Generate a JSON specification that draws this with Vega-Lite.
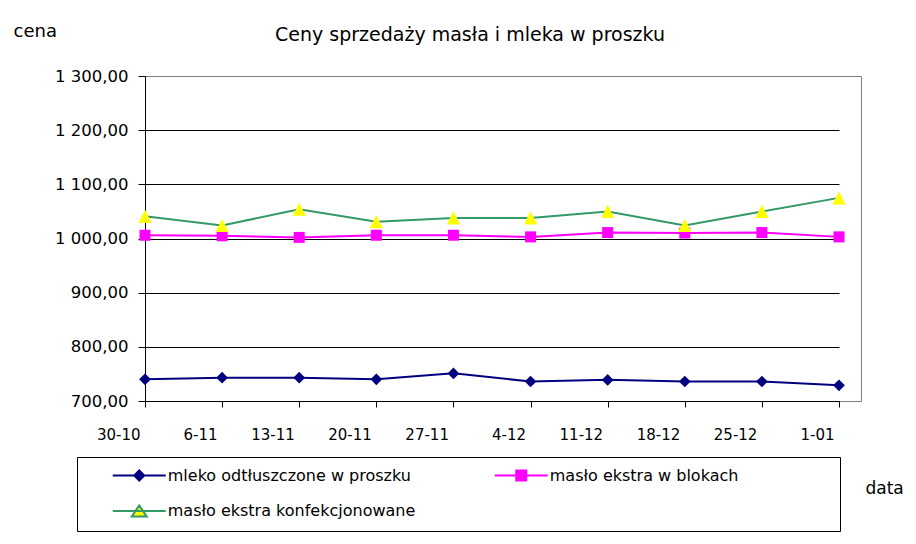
{
  "$schema": "https://vega.github.io/schema/vega-lite/v6.json",
  "width": 716,
  "height": 325,
  "autosize": {"type": "none"},
  "padding": {"left": 145, "top": 76, "right": 55, "bottom": 143},
  "background": "white",
  "config": {"view": {"stroke": "#808080", "strokeWidth": 1}},
  "title": {
    "text": "Ceny sprzedaży masła i mleka w proszku",
    "font": "DejaVu Sans", "fontSize": 19, "fontWeight": "normal", "color": "black",
    "anchor": "middle", "frame": "group", "dx": -33, "baseline": "alphabetic", "offset": -38
  },
  "data": {"values": [
    {"date": "30-10", "series": "mleko odtłuszczone w proszku", "value": 740},
    {"date": "6-11", "series": "mleko odtłuszczone w proszku", "value": 743},
    {"date": "13-11", "series": "mleko odtłuszczone w proszku", "value": 743},
    {"date": "20-11", "series": "mleko odtłuszczone w proszku", "value": 740},
    {"date": "27-11", "series": "mleko odtłuszczone w proszku", "value": 751},
    {"date": "4-12", "series": "mleko odtłuszczone w proszku", "value": 736},
    {"date": "11-12", "series": "mleko odtłuszczone w proszku", "value": 739},
    {"date": "18-12", "series": "mleko odtłuszczone w proszku", "value": 736},
    {"date": "25-12", "series": "mleko odtłuszczone w proszku", "value": 736},
    {"date": "1-01", "series": "mleko odtłuszczone w proszku", "value": 729},
    {"date": "30-10", "series": "masło ekstra w blokach", "value": 1006},
    {"date": "6-11", "series": "masło ekstra w blokach", "value": 1005},
    {"date": "13-11", "series": "masło ekstra w blokach", "value": 1002},
    {"date": "20-11", "series": "masło ekstra w blokach", "value": 1006},
    {"date": "27-11", "series": "masło ekstra w blokach", "value": 1006},
    {"date": "4-12", "series": "masło ekstra w blokach", "value": 1003},
    {"date": "11-12", "series": "masło ekstra w blokach", "value": 1011},
    {"date": "18-12", "series": "masło ekstra w blokach", "value": 1010},
    {"date": "25-12", "series": "masło ekstra w blokach", "value": 1011},
    {"date": "1-01", "series": "masło ekstra w blokach", "value": 1003},
    {"date": "30-10", "series": "masło ekstra konfekcjonowane", "value": 1041},
    {"date": "6-11", "series": "masło ekstra konfekcjonowane", "value": 1024},
    {"date": "13-11", "series": "masło ekstra konfekcjonowane", "value": 1054},
    {"date": "20-11", "series": "masło ekstra konfekcjonowane", "value": 1031},
    {"date": "27-11", "series": "masło ekstra konfekcjonowane", "value": 1038},
    {"date": "4-12", "series": "masło ekstra konfekcjonowane", "value": 1038},
    {"date": "11-12", "series": "masło ekstra konfekcjonowane", "value": 1050},
    {"date": "18-12", "series": "masło ekstra konfekcjonowane", "value": 1024},
    {"date": "25-12", "series": "masło ekstra konfekcjonowane", "value": 1050},
    {"date": "1-01", "series": "masło ekstra konfekcjonowane", "value": 1075}
  ]},
  "encoding": {
    "x": {
      "field": "date", "type": "ordinal", "sort": null,
      "scale": {"type": "point", "range": [0, 694], "padding": 0},
      "axis": {
        "title": "data", "titleX": 720, "titleY": 92, "titleAlign": "left", "titleBaseline": "alphabetic",
        "titleAngle": 0, "titleFont": "DejaVu Sans", "titleFontSize": 17, "titleFontWeight": "normal", "titleColor": "black",
        "labelAngle": 0, "labelAlign": "right", "labelOffset": -5, "labelPadding": 20,
        "labelFont": "DejaVu Sans", "labelFontSize": 15, "labelColor": "black",
        "ticks": true, "tickSize": 6, "tickColor": "black", "domain": false, "grid": false
      }
    },
    "y": {
      "field": "value", "type": "quantitative",
      "scale": {"domain": [700, 1300], "nice": false, "zero": false},
      "axis": {
        "values": [700, 800, 900, 1000, 1100, 1200, 1300],
        "labelExpr": "replace(replace(format(datum.value, ',.2f'), ',', ' '), '.', ',')",
        "title": "cena", "titleX": -132, "titleY": -40, "titleAlign": "left", "titleBaseline": "alphabetic",
        "titleAngle": 0, "titleFont": "DejaVu Sans", "titleFontSize": 18, "titleFontWeight": "normal", "titleColor": "black",
        "labelFont": "DejaVu Sans", "labelFontSize": 16.5, "labelColor": "black", "labelPadding": 10,
        "tickSize": 7, "tickColor": "black", "domain": true, "domainColor": "black",
        "grid": true,
        "gridColor": {"condition": {"test": "datum.value === 1300", "value": "#808080"}, "value": "#000000"},
        "gridWidth": 1, "gridOpacity": 1
      }
    }
  },
  "layer": [
    {
      "mark": {"type": "line", "strokeWidth": 2},
      "encoding": {
        "stroke": {
          "field": "series", "type": "nominal", "sort": null,
          "scale": {"domain": ["mleko odtłuszczone w proszku", "masło ekstra w blokach", "masło ekstra konfekcjonowane"],
                    "range": ["#000080", "#FF00FF", "#339966"]},
          "legend": {
            "title": " ", "titleOrient": "right", "titlePadding": 92, "titleFontSize": 16,
            "orient": "none", "legendX": -68, "legendY": 381,
            "direction": "horizontal", "columns": 2, "gridAlign": "all",
            "padding": 10, "strokeColor": "black", "fillColor": "white",
            "rowPadding": 16, "columnPadding": 53, "labelLimit": 500,
            "labelFont": "DejaVu Sans", "labelFontSize": 16, "labelColor": "black",
            "labelOffset": 20.5, "symbolOffset": 44.25, "symbolSize": 100, "symbolStrokeWidth": 2,
            "encode": {
              "symbols": {"update": {
                "shape": {"signal": "datum.value === 'mleko odtłuszczone w proszku' ? 'M-5.3,0L5.3,0M0,-1L1,0L0,1L-1,0Z' : datum.value === 'masło ekstra w blokach' ? 'M-5.3,0L5.3,0M-1,-1L1,-1L1,1L-1,1Z' : 'M-5.3,0L5.3,0M0,-1.1L1.5,1.1L-1.5,1.1Z'"},
                "fill": {"signal": "datum.value === 'mleko odtłuszczone w proszku' ? '#000080' : datum.value === 'masło ekstra w blokach' ? '#FF00FF' : '#FFFF00'"},
                "stroke": {"signal": "scale('stroke', datum.value)"},
                "strokeWidth": {"value": 2},
                "opacity": {"value": 1},
                "fillOpacity": {"value": 1}
              }}
            }
          }
        }
      }
    },
    {
      "transform": [{"filter": {"field": "series", "equal": "mleko odtłuszczone w proszku"}}],
      "mark": {"type": "point", "filled": true, "opacity": 1, "strokeWidth": 0, "size": 144, "fill": "#000080",
               "shape": "M0,-0.975L0.975,0L0,0.975L-0.975,0Z"}
    },
    {
      "transform": [{"filter": {"field": "series", "equal": "masło ekstra w blokach"}}],
      "mark": {"type": "point", "filled": true, "opacity": 1, "strokeWidth": 0, "size": 144, "fill": "#FF00FF",
               "shape": "M-0.917,-0.917H0.917V0.917H-0.917Z"}
    },
    {
      "transform": [{"filter": {"field": "series", "equal": "masło ekstra konfekcjonowane"}}],
      "mark": {"type": "point", "filled": true, "opacity": 1, "strokeWidth": 0, "size": 144, "fill": "#FFFF00",
               "shape": "M0,-1.1L1.1,1.1H-1.1Z"}
    }
  ]
}
